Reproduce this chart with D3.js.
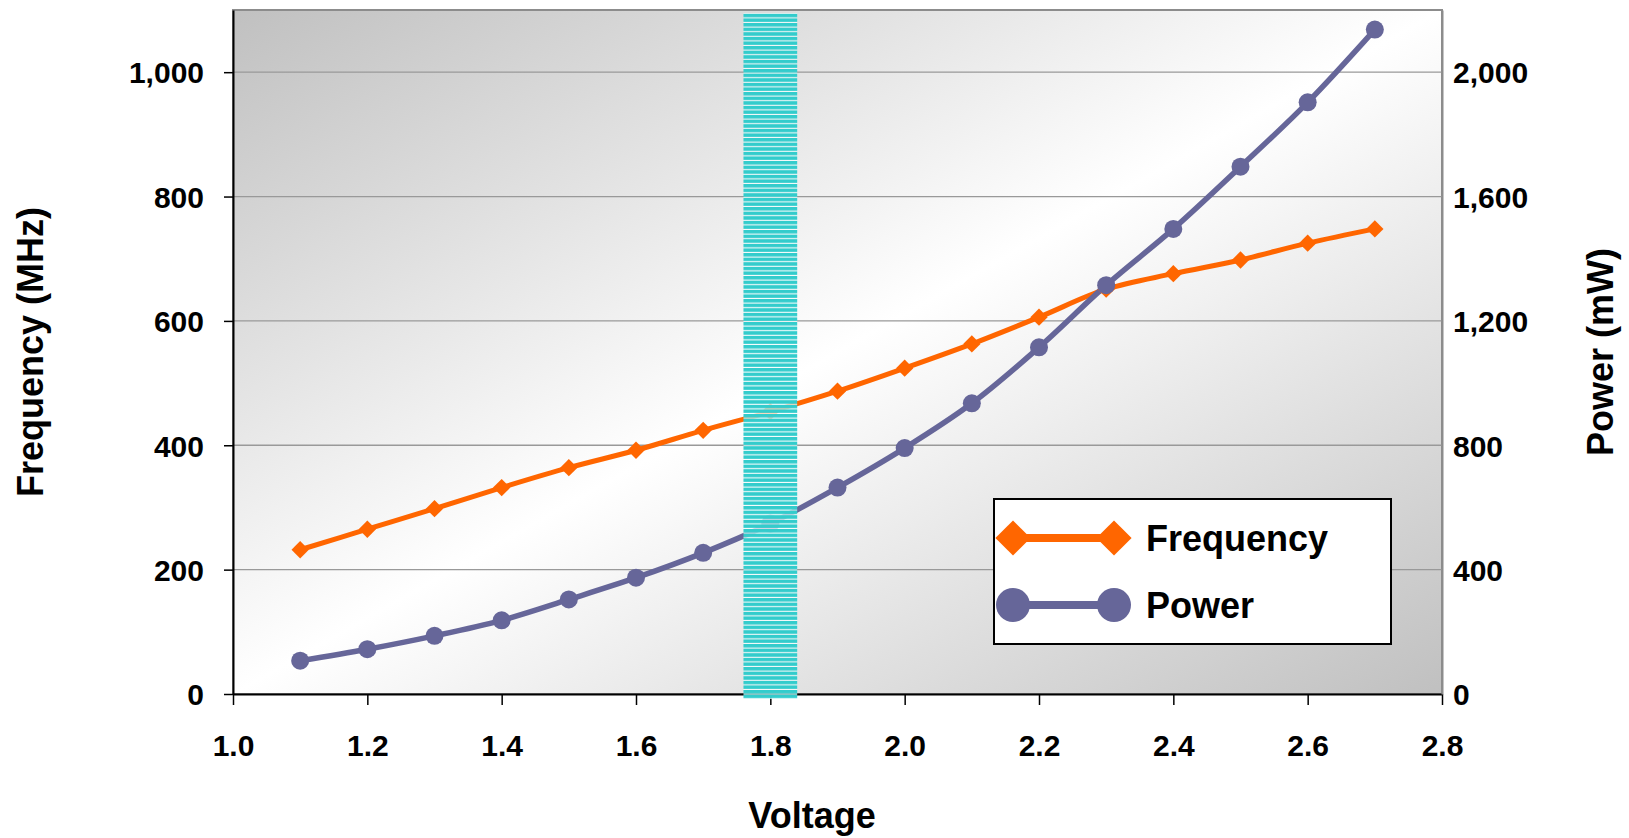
<!DOCTYPE html>
<html>
<head>
<meta charset="utf-8">
<script src="https://cdn.jsdelivr.net/npm/d3@7"></script>
<style>
  html, body { margin: 0; padding: 0; background: #fff; }
  svg text { font-family: "Liberation Sans", Arial, sans-serif; font-weight: bold; fill: #000; }
</style>
</head>
<body>
<svg id="chart" width="1629" height="838"></svg>
<script>
// ---- data ----
const voltage   = [1.1, 1.2, 1.3, 1.4, 1.5, 1.6, 1.7, 1.8, 1.9, 2.0, 2.1, 2.2, 2.3, 2.4, 2.5, 2.6, 2.7];
const frequency = [232, 265, 298, 332, 364, 392, 424, 454, 487, 524, 563, 606, 651, 676, 698, 725, 748];
const power     = [107, 144, 187, 237, 304, 374, 454, 548, 664, 791, 935, 1115, 1315, 1496, 1696, 1903, 2137];
const xTicks    = [1.0, 1.2, 1.4, 1.6, 1.8, 2.0, 2.2, 2.4, 2.6, 2.8];
const leftTicks = [0, 200, 400, 600, 800, 1000];
const rightTicks = [0, 400, 800, 1200, 1600, 2000];
const highlightRange = [1.76, 1.84];
const seriesNames = ["Frequency", "Power"];

// ---- layout ----
const svg = d3.select("#chart");
const L = 233, R = 1442, T = 10, B = 694;
const x = d3.scaleLinear().domain([1.0, 2.8]).range([L, R]);
const yL = d3.scaleLinear().domain([0, 1100]).range([B, T]);
const yR = d3.scaleLinear().domain([0, 2200]).range([B, T]);
const fmt = d3.format(",");

const defs = svg.append("defs");
const grad = defs.append("linearGradient").attr("id", "bg")
  .attr("x1", 0).attr("y1", 0).attr("x2", 1).attr("y2", 1);
grad.append("stop").attr("offset", 0).attr("stop-color", "#c0c0c0");
grad.append("stop").attr("offset", 0.5).attr("stop-color", "#ffffff");
grad.append("stop").attr("offset", 1).attr("stop-color", "#c0c0c0");

const pat = defs.append("pattern").attr("id", "stripes")
  .attr("patternUnits", "userSpaceOnUse").attr("width", 10).attr("height", 4.6);
pat.append("rect").attr("width", 10).attr("height", 3.6).attr("fill", "#33cccc");
pat.append("rect").attr("y", 3.6).attr("width", 10).attr("height", 1).attr("fill", "#ffffff").attr("opacity", 0.75);

// plot background
svg.append("rect").attr("x", L).attr("y", T).attr("width", R - L).attr("height", B - T)
  .attr("fill", "url(#bg)").attr("stroke", "#8c8c8c").attr("stroke-width", 2);

// gridlines
svg.append("g").selectAll("line").data(leftTicks.filter(d => d > 0)).join("line")
  .attr("x1", L).attr("x2", R).attr("y1", d => yL(d)).attr("y2", d => yL(d))
  .attr("stroke", "#999").attr("stroke-width", 1.3);

// axes
const gx = svg.append("g").attr("transform", `translate(0,${B})`)
  .call(d3.axisBottom(x).tickValues(xTicks).tickFormat(d3.format(".1f")).tickSize(11).tickSizeOuter(0));
gx.select(".domain").attr("stroke", "#000").attr("stroke-width", 2);
gx.selectAll(".tick line").attr("stroke", "#000").attr("stroke-width", 1.5);
gx.selectAll(".tick text").attr("font-size", 30).attr("y", 0).attr("dy", null)
  .attr("transform", "translate(0,62)").style("font-family", "Liberation Sans, Arial, sans-serif").style("font-weight", "bold").attr("fill", "#000");

const gy = svg.append("g").attr("transform", `translate(${L},0)`)
  .call(d3.axisLeft(yL).tickValues(leftTicks).tickFormat(fmt).tickSize(9).tickSizeOuter(0));
gy.select(".domain").attr("stroke", "#000").attr("stroke-width", 2);
gy.selectAll(".tick line").attr("stroke", "#000").attr("stroke-width", 1.5);
gy.selectAll(".tick text").attr("font-size", 30).attr("x", -29).attr("dy", "0.36em")
  .style("font-family", "Liberation Sans, Arial, sans-serif").style("font-weight", "bold").attr("fill", "#000");

const gr = svg.append("g").attr("transform", `translate(${R},0)`)
  .call(d3.axisRight(yR).tickValues(rightTicks).tickFormat(fmt).tickSize(0).tickSizeOuter(0));
gr.select(".domain").attr("stroke", "#8c8c8c").attr("stroke-width", 2);
gr.selectAll(".tick text").attr("font-size", 30).attr("x", 11).attr("dy", "0.36em")
  .style("font-family", "Liberation Sans, Arial, sans-serif").style("font-weight", "bold").attr("fill", "#000");

// axis titles
svg.append("text").attr("x", 812).attr("y", 828).attr("text-anchor", "middle").attr("font-size", 36).text("Voltage");
svg.append("text").attr("transform", `translate(43,${(T + B) / 2}) rotate(-90)`)
  .attr("text-anchor", "middle").attr("font-size", 36).text("Frequency (MHz)");
svg.append("text").attr("transform", `translate(1613,${(T + B) / 2}) rotate(-90)`)
  .attr("text-anchor", "middle").attr("font-size", 36).text("Power (mW)");

// series
const curve = d3.curveCatmullRom.alpha(0.5);
const freqData = voltage.map((v, i) => ({ v, y: frequency[i] }));
const powData = voltage.map((v, i) => ({ v, y: power[i] }));
const ORANGE = "#ff6600", PURPLE = "#666699";

svg.append("path").datum(freqData)
  .attr("d", d3.line().x(d => x(d.v)).y(d => yL(d.y)).curve(curve))
  .attr("fill", "none").attr("stroke", ORANGE).attr("stroke-width", 5);
svg.append("path").datum(powData)
  .attr("d", d3.line().x(d => x(d.v)).y(d => yR(d.y)).curve(curve))
  .attr("fill", "none").attr("stroke", PURPLE).attr("stroke-width", 5.5);

const diamond = d3.symbol().type(d3.symbolSquare).size(150);
svg.append("g").selectAll("path").data(freqData).join("path")
  .attr("d", diamond())
  .attr("transform", d => `translate(${x(d.v)},${yL(d.y)}) rotate(45)`)
  .attr("fill", ORANGE);
svg.append("g").selectAll("circle").data(powData).join("circle")
  .attr("cx", d => x(d.v)).attr("cy", d => yR(d.y)).attr("r", 9)
  .attr("fill", PURPLE);

// highlight band
svg.append("rect")
  .attr("x", x(highlightRange[0])).attr("width", x(highlightRange[1]) - x(highlightRange[0]))
  .attr("y", yL(1095)).attr("height", B + 5 - yL(1095))
  .attr("fill", "url(#stripes)");

// legend
const lg = svg.append("g");
lg.append("rect").attr("x", 994).attr("y", 499).attr("width", 397).attr("height", 145)
  .attr("fill", "#fff").attr("stroke", "#000").attr("stroke-width", 2);
const rows = [
  { name: seriesNames[0], color: ORANGE, y: 538, type: "diamond" },
  { name: seriesNames[1], color: PURPLE, y: 605, type: "circle" }
];
rows.forEach(r => {
  lg.append("line").attr("x1", 1013).attr("x2", 1114).attr("y1", r.y).attr("y2", r.y)
    .attr("stroke", r.color).attr("stroke-width", 8);
  [1013, 1114].forEach(cx => {
    if (r.type === "diamond") {
      lg.append("path").attr("d", d3.symbol().type(d3.symbolSquare).size(620)())
        .attr("transform", `translate(${cx},${r.y}) rotate(45)`).attr("fill", r.color);
    } else {
      lg.append("circle").attr("cx", cx).attr("cy", r.y).attr("r", 17).attr("fill", r.color);
    }
  });
  lg.append("text").attr("x", 1146).attr("y", r.y).attr("dy", "0.36em").attr("font-size", 36).text(r.name);
});
</script>
</body>
</html>
